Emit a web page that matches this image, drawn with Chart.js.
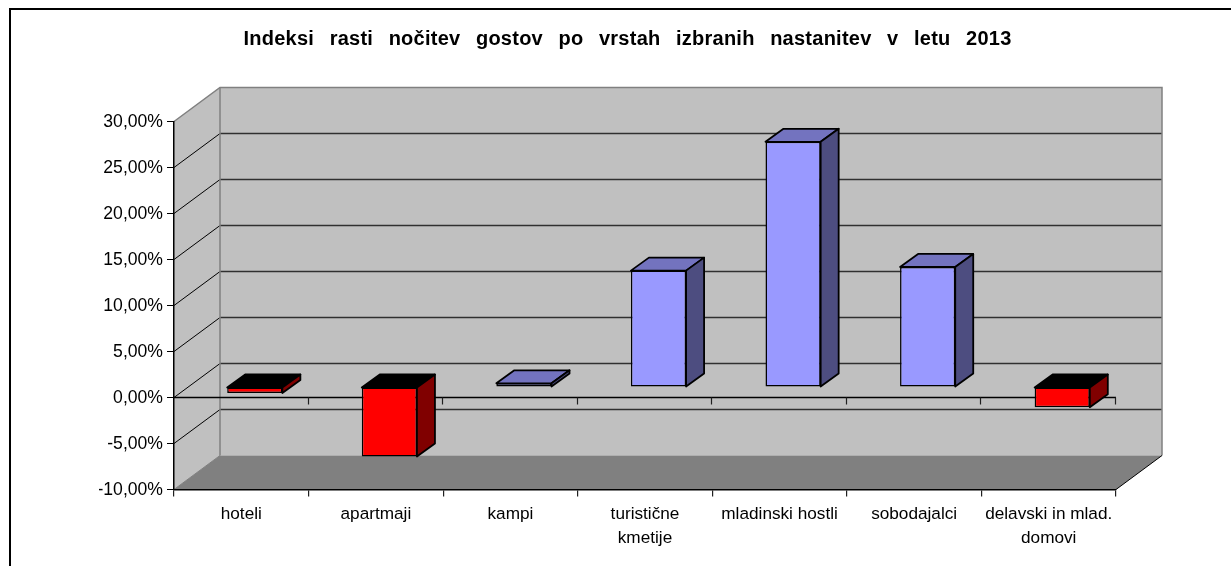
<!DOCTYPE html>
<html><head><meta charset="utf-8">
<style>html,body{margin:0;padding:0;background:#fff;overflow:hidden}canvas{display:block}</style>
<script src="https://cdn.jsdelivr.net/npm/chart.js@4"></script></head>
<body><canvas id="c" width="1231" height="566"></canvas>
<script>
const titleText = 'Indeksi rasti nočitev gostov po vrstah izbranih nastanitev v letu 2013';
const categories = ['hoteli','apartmaji','kampi',['turistične','kmetije'],'mladinski hostli','sobodajalci',['delavski in mlad.','domovi']];
const growthIndex = [-0.65,-7.55,0.4,12.65,26.65,13.05,-2.2];
const yMin = -10, yMax = 30, yStep = 5;

const WALL_DX = 46, WALL_DY = -34;
const BAR_SHIFT = [13.5,-10.5];
const BAR_DEPTH = [18,-13];
const POS = {front:'#9999FF',side:'#4D4D80',top:'#7373BF'};
const NEG = {front:'#FF0000',side:'#800000',top:'#000000'};

function poly(ctx,pts,fill,stroke,lw){
  ctx.beginPath();
  pts.forEach((p,i)=>i?ctx.lineTo(p[0],p[1]):ctx.moveTo(p[0],p[1]));
  ctx.closePath();
  if(fill){ctx.fillStyle=fill;ctx.fill();}
  if(stroke){ctx.strokeStyle=stroke;ctx.lineWidth=lw;ctx.stroke();}
}
function seg(ctx,pts,color,lw){
  ctx.beginPath();
  pts.forEach((p,i)=>i?ctx.lineTo(p[0],p[1]):ctx.moveTo(p[0],p[1]));
  ctx.strokeStyle=color;ctx.lineWidth=lw;ctx.stroke();
}

const scene = {
  id:'scene',
  afterLayout(chart){
    const tb = chart.titleBlock;
    if(tb && !tb._wrapped){
      const d = tb.draw.bind(tb);
      tb.draw = function(){
        const c = chart.ctx; c.save();
        c.translate(20,0);
        c.letterSpacing='0.25px'; c.wordSpacing='9.7px';
        d(); c.restore();
      };
      tb._wrapped = true;
    }
  },
  beforeDraw(chart){
    const c = chart.ctx, {x,y} = chart.scales, a = chart.chartArea;
    const L=a.left,R=a.right,T=a.top,B=a.bottom;
    c.save();
    c.fillStyle='#fff';c.fillRect(0,0,chart.width,chart.height);
    c.fillStyle='#000';c.fillRect(9,8,2,chart.height-8);c.fillRect(9,8,chart.width-9,2);
    // walls
    poly(c,[[L,T],[L+WALL_DX,T+WALL_DY],[L+WALL_DX,B+WALL_DY],[L,B]],'#C0C0C0');
    c.fillStyle='#C0C0C0';c.fillRect(L+WALL_DX,T+WALL_DY,R-L,B-T);
    poly(c,[[L,B],[L+WALL_DX,B+WALL_DY],[R+WALL_DX,B+WALL_DY],[R,B]],'#808080');
    // gridlines
    y.ticks.forEach(t=>{
      if(t.value===yMin||t.value===yMax) return;
      const p=y.getPixelForValue(t.value);
      const bk=p+WALL_DY;
      seg(c,[[L,p],[L+WALL_DX,bk]],'#000',1);
      seg(c,[[L+WALL_DX,bk],[R+WALL_DX,bk]],'#303030',1.5);
    });
    // wall edges
    seg(c,[[L,T],[L+WALL_DX,T+WALL_DY],[R+WALL_DX,T+WALL_DY],[R+WALL_DX,B+WALL_DY]],'#808080',1.5);
    seg(c,[[L+WALL_DX,T+WALL_DY],[L+WALL_DX,B+WALL_DY]],'#808080',1.5);
    seg(c,[[L,B],[L+WALL_DX,B+WALL_DY]],'#808080',1);
    seg(c,[[R,B],[R+WALL_DX,B+WALL_DY]],'#000',1);
    // axis at zero
    const z=y.getPixelForValue(0);
    seg(c,[[L,z],[R,z]],'#000',1.5);
    const w=(R-L)/categories.length;
    for(let i=1;i<=categories.length;i++){
      const tx=Math.round(L+w*i)-0.5;
      seg(c,[[tx,z],[tx,z+7]],'#202020',1.2);
    }
    c.restore();
  },
  beforeDatasetDraw(chart,args){
    const c = chart.ctx;
    c.save();
    c.translate(BAR_SHIFT[0],BAR_SHIFT[1]);
    const meta = args.meta;
    meta.data.forEach((el,i)=>{
      const p = el.getProps(['x','y','base','width'],true);
      const top=Math.min(p.y,p.base),bot=Math.max(p.y,p.base);
      const l=p.x-p.width/2,r=p.x+p.width/2;
      const col=growthIndex[i]<0?NEG:POS;
      c.lineJoin='round';
      poly(c,[[l,top],[r,top],[r+BAR_DEPTH[0],top+BAR_DEPTH[1]],[l+BAR_DEPTH[0],top+BAR_DEPTH[1]]],col.top,'#000',1.8);
      poly(c,[[r,top],[r+BAR_DEPTH[0],top+BAR_DEPTH[1]],[r+BAR_DEPTH[0],bot+BAR_DEPTH[1]],[r,bot]],col.side,'#000',1.8);
    });
  },
  afterDatasetDraw(chart){ chart.ctx.restore(); }
};

new Chart(document.getElementById('c'),{
  type:'bar',
  data:{labels:categories,datasets:[{
    data:growthIndex,
    backgroundColor:growthIndex.map(v=>v<0?NEG.front:POS.front),
    borderColor:'#000',borderWidth:1.5,borderSkipped:false,
    categoryPercentage:1,barPercentage:0.41,clip:false
  }]},
  options:{
    responsive:false,animation:false,
    layout:{padding:{left:99,right:115,top:0,bottom:0},autoPadding:false},
    plugins:{legend:{display:false},tooltip:{enabled:false},
      title:{display:true,text:titleText,color:'#000',
        font:{family:'"Liberation Sans"',size:20,weight:'bold',lineHeight:1.2},
        padding:{top:27,bottom:70.5}}},
    scales:{
      x:{type:'category',offset:true,
        afterFit(s){s.height=76.5;},
        grid:{offset:true,drawOnChartArea:false,drawTicks:true,tickLength:7,color:'#202020',lineWidth:1.2},
        border:{color:'#000',width:1.5},
        ticks:{color:'#000',autoSkip:false,maxRotation:0,minRotation:0,padding:6,
          font:{family:'"Liberation Sans"',size:17.2,lineHeight:1.4}}},
      y:{type:'linear',min:yMin,max:yMax,
        afterFit(s){s.width=75;},
        grid:{drawOnChartArea:false,drawTicks:true,tickLength:7,color:'#000',lineWidth:1},
        border:{color:'#000',width:1.5},
        ticks:{color:'#000',stepSize:yStep,padding:4,labelOffset:1,
          callback:v=>v.toFixed(2).replace('.',',')+'%',
          font:{family:'"Liberation Sans"',size:17.6}}}
    }
  },
  plugins:[scene]
});
</script></body></html>
